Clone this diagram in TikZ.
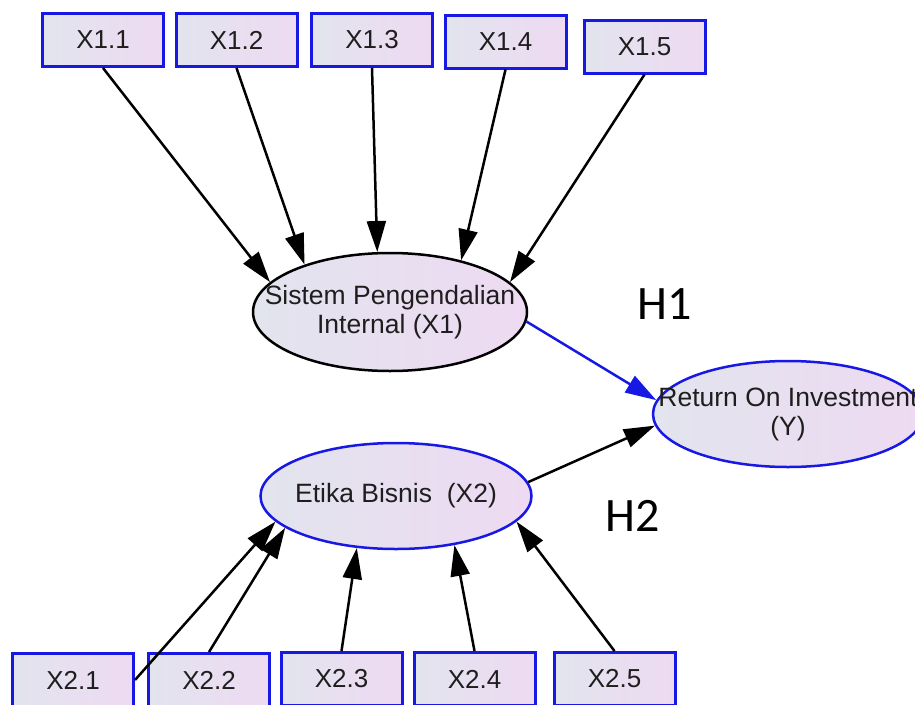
\documentclass[tikz,border=0pt]{standalone}
\usepackage{fontspec}
\setmainfont{Liberation Sans}
\newfontfamily\hfont{Carlito}
\usetikzlibrary{shapes.geometric,arrows.meta}
\definecolor{edgeblue}{RGB}{24,24,228}
\definecolor{fillL}{RGB}{226,228,238}
\definecolor{fillR}{RGB}{238,218,242}
\definecolor{txt}{RGB}{30,30,30}
\begin{document}
\begin{tikzpicture}[x=1pt,y=-1pt,
  ind/.style={draw=edgeblue, line width=3pt, left color=fillL, right color=fillR,
    minimum width=121pt, minimum height=53pt, inner sep=0pt,
    font=\fontsize{26}{29}\selectfont, text=txt},
  lat/.style={ellipse, line width=2.5pt, left color=fillL, right color=fillR, inner sep=0pt},
  lattext/.style={font=\fontsize{26.5}{29}\selectfont, text=txt, align=center},
  arr/.style={line width=2.5pt, -{Triangle[length=31pt,width=19pt]}},
  hyp/.style={font=\hfont\fontsize{48}{50}\selectfont, text=black}]
\useasboundingbox (0,0) rectangle (915,704);
\clip (0,0) rectangle (915,704);

% indicator boxes (top)
\node[ind] (x11) at (103,40) {X1.1};
\node[ind] (x12) at (236.5,40) {X1.2};
\node[ind] (x13) at (372,40) {X1.3};
\node[ind] (x14) at (505.5,41.5) {X1.4};
\node[ind] (x15) at (644.5,46.5) {X1.5};

% indicator boxes (bottom)
\node[ind] (x21) at (73,680) {X2.1};
\node[ind] (x22) at (209,680) {X2.2};
\node[ind] (x23) at (341.5,679) {X2.3};
\node[ind] (x24) at (474.5,679) {X2.4};
\node[ind] (x25) at (614.5,679) {X2.5};

% latent variables
\node[lat, draw=black, minimum width=274pt, minimum height=118pt,
  label={[lattext]center:Sistem Pengendalian\\Internal (X1)}] (spi) at (390,312) {};
\node[lat, draw=edgeblue, minimum width=271pt, minimum height=106pt,
  label={[lattext]center:Etika Bisnis\ \ (X2)}] (eb) at (396,496) {};
\node[lat, draw=edgeblue, minimum width=270pt, minimum height=106pt,
  label={[lattext]center:Return On Investment\\(Y)}] (roi) at (788,414) {};

% hypothesis labels
\node[hyp] (h1) at (665,304) {H1};
\node[hyp] (h2) at (633,516) {H2};

% connectors
\draw[arr] (x11.south) -- (spi.166);
\draw[arr] (x12.south) -- (spi.151);
\draw[arr] (x13.south) -- (spi.102);
\draw[arr] (x14.south) -- (spi.36);
\draw[arr] (x15.south) -- (spi.14);
\draw[arr, edgeblue] (spi.-4.5) -- (roi.174);
\draw[arr] (eb.6) -- (roi.185);
\draw[arr] (x21.east) -- (eb.192);
\draw[arr] (x22.north) -- (eb.196);
\draw[arr] (x23.north) -- (eb.233);
\draw[arr] (x24.north) -- (eb.320);
\draw[arr] (x25.north) -- (eb.348);
\end{tikzpicture}
\end{document}
